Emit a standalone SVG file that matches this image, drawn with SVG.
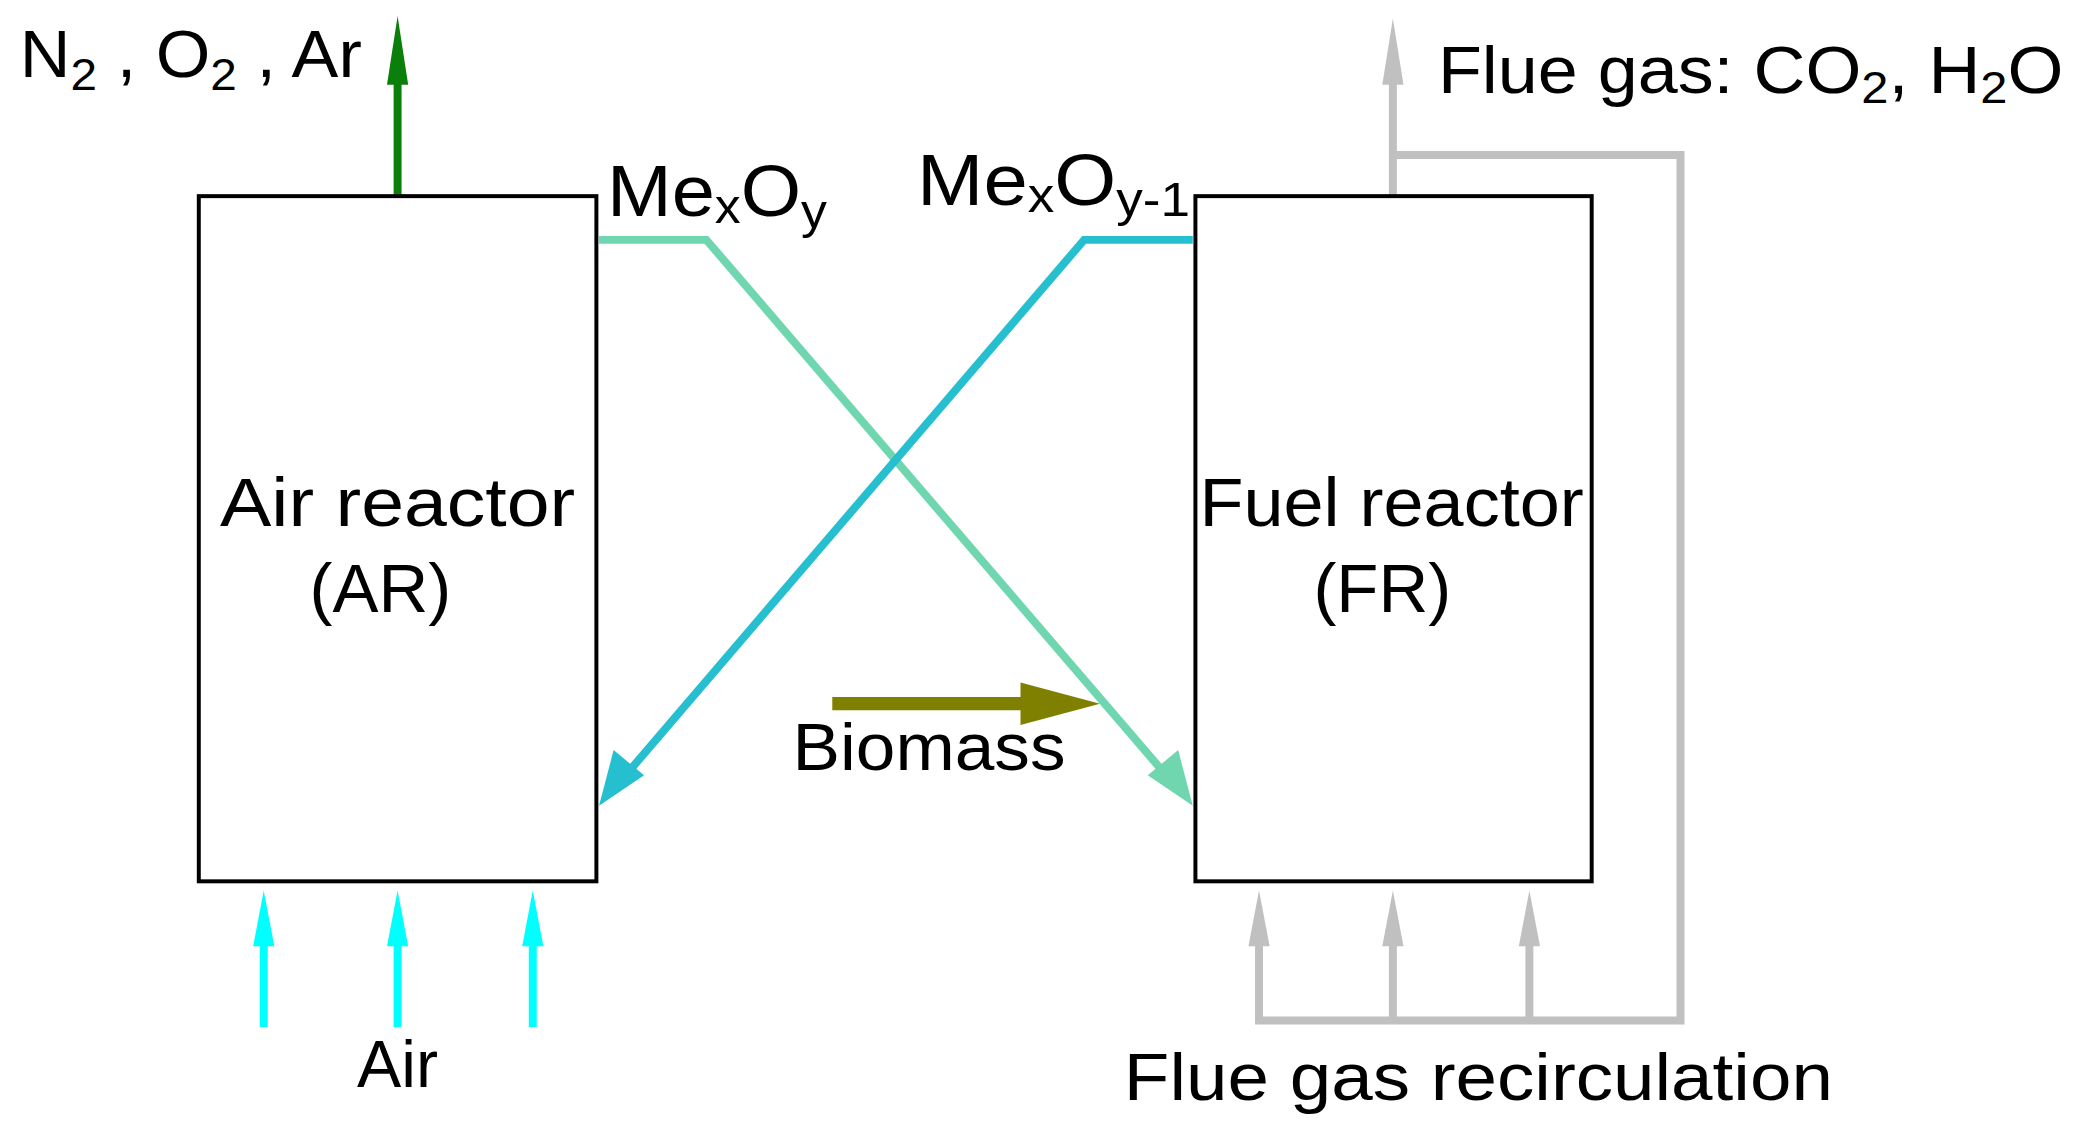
<svg xmlns="http://www.w3.org/2000/svg" width="2078" height="1133" viewBox="0 0 2078 1133">
<style>
text{font-family:"Liberation Sans","DejaVu Sans",sans-serif;fill:#000}
.box{fill:#fff;stroke:#000;stroke-width:3}
.l{fill:none;stroke-linejoin:miter}
</style>
<rect width="2078" height="1133" fill="#fff"/>
<g transform="scale(1.3253)">
<g id="connectors">
<line x1="300" y1="148" x2="300" y2="60" stroke="#0a7f0a" stroke-width="6"/>
<polygon points="300,12 292,64 308,64" fill="#0a7f0a"/>
<polyline class="l" points="452,181 533,181 880,585" stroke="#70d6b0" stroke-width="6"/>
<polygon points="900,608 866,585 889,566" fill="#70d6b0"/>
<polyline class="l" points="900,181 818,181 472,585" stroke="#25bfcf" stroke-width="6"/>
<polygon points="452,608 463,566 486,585" fill="#25bfcf"/>
<line x1="628" y1="531" x2="775" y2="531" stroke="#808000" stroke-width="10"/>
<polygon points="830,531 770,515 770,547" fill="#808000"/>
<g stroke="#00ffff" stroke-width="6">
<line x1="199" y1="775" x2="199" y2="705"/><line x1="300" y1="775" x2="300" y2="705"/><line x1="402" y1="775" x2="402" y2="705"/>
</g>
<g fill="#00ffff">
<polygon points="199,672 191,714 207,714"/><polygon points="300,672 292,714 308,714"/><polygon points="402,672 394,714 410,714"/>
</g>
<polyline class="l" points="950,705 950,770 1268,770 1268,117 1051,117" stroke="#c0c0c0" stroke-width="6"/>
<g stroke="#c0c0c0" stroke-width="6">
<line x1="1051" y1="770" x2="1051" y2="705"/><line x1="1154" y1="770" x2="1154" y2="705"/>
<line x1="1051" y1="148" x2="1051" y2="60"/>
</g>
<g fill="#c0c0c0">
<polygon points="950,672 942,714 958,714"/><polygon points="1051,672 1043,714 1059,714"/><polygon points="1154,672 1146,714 1162,714"/>
<polygon points="1051,14 1043,64 1059,64"/>
</g>
</g>
<g id="ar"><rect class="box" x="150" y="148" width="300" height="517"/>
<text x="300" y="397" font-size="52" text-anchor="middle" textLength="268" lengthAdjust="spacingAndGlyphs">Air reactor</text>
<text x="287" y="462" font-size="52" text-anchor="middle">(AR)</text></g>
<g id="fr"><rect class="box" x="902" y="148" width="299" height="517"/>
<text x="1050" y="397" font-size="52" text-anchor="middle" textLength="290" lengthAdjust="spacingAndGlyphs">Fuel reactor</text>
<text x="1043" y="462" font-size="52" text-anchor="middle">(FR)</text></g>
<g id="labels" font-size="50">
<text x="15" y="58" textLength="258" lengthAdjust="spacingAndGlyphs">N<tspan font-size="34" dy="10">2</tspan><tspan dy="-10"> , O</tspan><tspan font-size="34" dy="10">2</tspan><tspan dy="-10"> , Ar</tspan></text>
<text x="458" y="163" font-size="54" textLength="166" lengthAdjust="spacingAndGlyphs">Me<tspan font-size="36" dy="5">x</tspan><tspan dy="-5">O</tspan><tspan font-size="36" dy="9">y</tspan></text>
<text x="692" y="155" font-size="54" textLength="206" lengthAdjust="spacingAndGlyphs">Me<tspan font-size="36" dy="5">x</tspan><tspan dy="-5">O</tspan><tspan font-size="36" dy="8">y-1</tspan></text>
<text x="1085" y="70" textLength="472" lengthAdjust="spacingAndGlyphs">Flue gas: CO<tspan font-size="34" dy="8">2</tspan><tspan dy="-8">, H</tspan><tspan font-size="34" dy="8">2</tspan><tspan dy="-8">O</tspan></text>
<text x="598" y="581" textLength="206" lengthAdjust="spacingAndGlyphs">Biomass</text>
<text x="300" y="820" text-anchor="middle">Air</text>
<text x="848" y="830" textLength="535" lengthAdjust="spacingAndGlyphs">Flue gas recirculation</text>
</g>
</g>
</svg>
